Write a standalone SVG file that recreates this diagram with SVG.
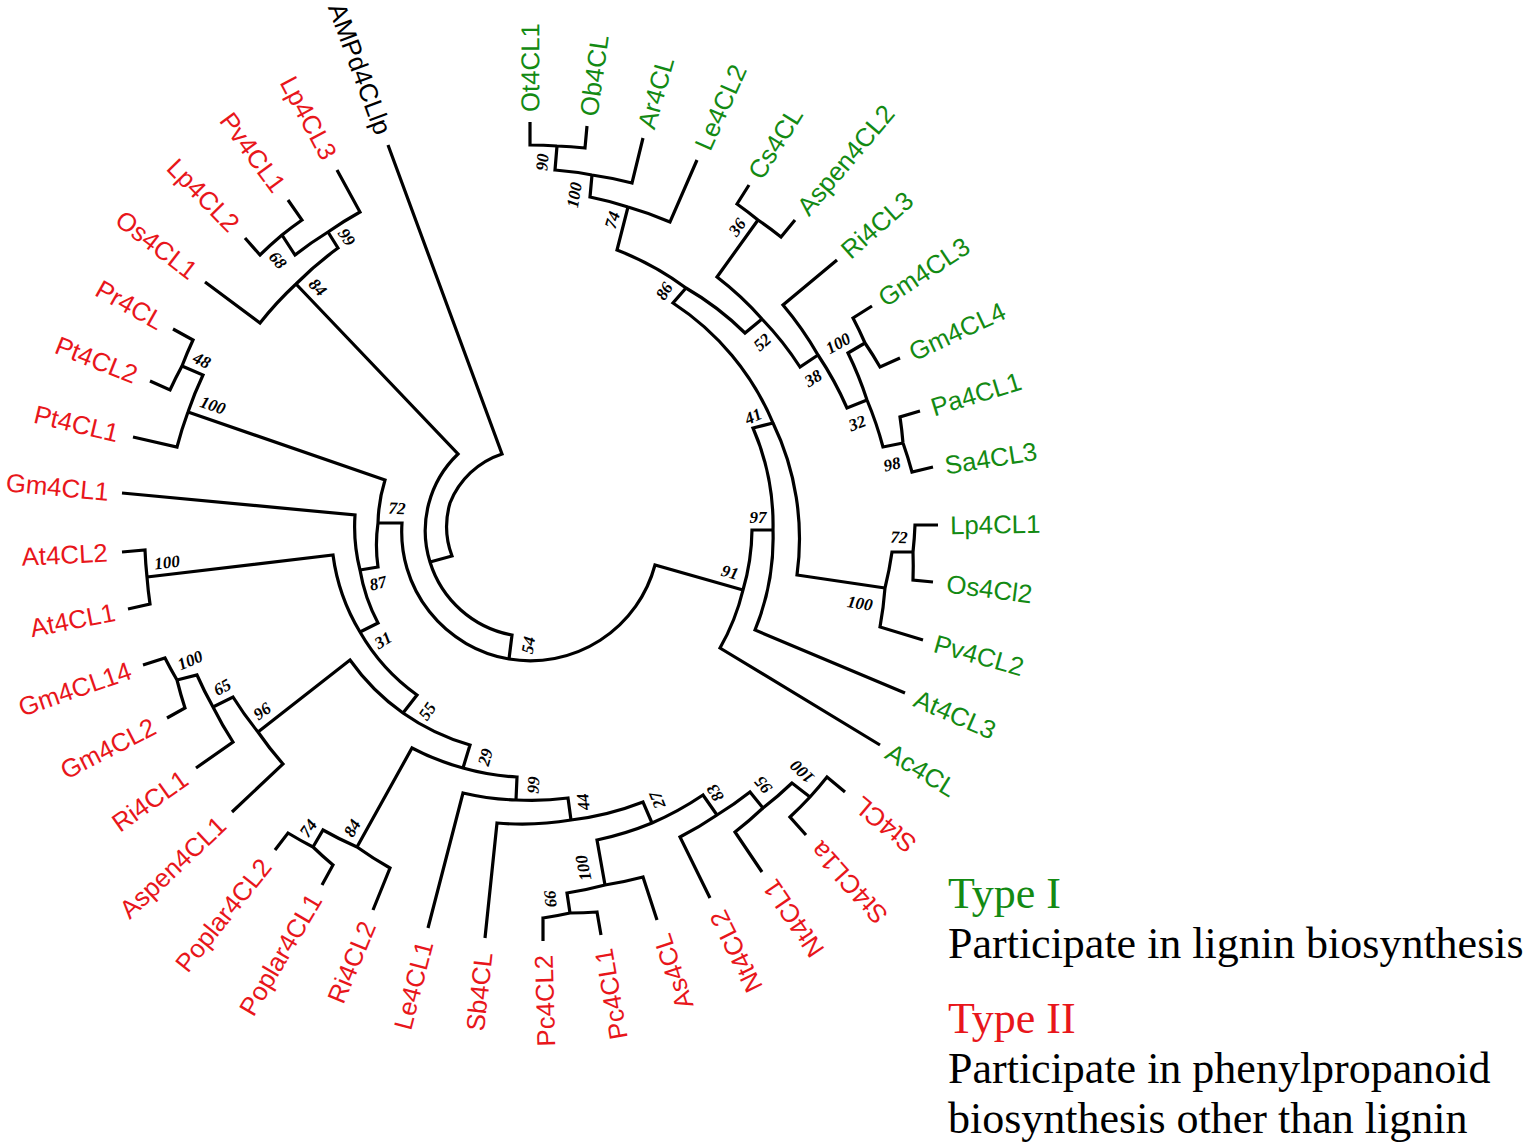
<svg xmlns="http://www.w3.org/2000/svg" width="1524" height="1146" viewBox="0 0 1524 1146">
<style>
.br{fill:none;stroke:#000;stroke-width:3.2;stroke-linejoin:miter;stroke-linecap:butt}
.lf{font-family:"Liberation Sans",Arial,sans-serif;font-size:25.8px}
.g{fill:#138a13}
.r{fill:#e8161b;text-anchor:end}
.k{fill:#000;text-anchor:end}
.bs{font-family:"Liberation Serif","Times New Roman",serif;font-size:17px;font-style:italic;font-weight:bold;text-anchor:middle;fill:#000}
.lg{font-family:"Liberation Serif","Times New Roman",serif;font-size:44px;fill:#000}
.ld{font-family:"Liberation Serif","Times New Roman",serif;font-size:44px;fill:#000}
</style>
<rect width="1524" height="1146" fill="#fff"/>
<g id="connectors" class="br">
<path d="M388,145 L502,454 A84,84 0 0 0 450,503 A84,84 0 0 0 452,556 L430,562"/>
<path d="M296,284 L458,454 A106,106 0 0 0 430,562 A106,106 0 0 0 512,635 L509,659"/>
<path d="M378,523 L402,523 A129,129 0 0 0 509,659 A129,129 0 0 0 655,565 L743,590"/>
<path d="M880,745 L720,648 A221,221 0 0 0 743,590 A221,221 0 0 0 752,530 L773,530"/>
<path d="M905,693 L755,630 A243,243 0 0 0 773,530 A243,243 0 0 0 753,428 L773,423"/>
<path d="M885,588 L797,575 A266,266 0 0 0 773,423 A266,266 0 0 0 673,303 L686,288"/>
<path d="M923,640 L880,627 A358,358 0 0 0 885,588 A358,358 0 0 0 892,552 L913,552"/>
<path d="M933,582 L913,580 A384,384 0 0 0 913,552 A384,384 0 0 0 915,525 L938,525"/>
<path d="M762,319 L745,333 A292,292 0 0 0 686,288 A292,292 0 0 0 617,250 L628,207"/>
<path d="M818,355 L800,367 A314,314 0 0 0 762,319 A314,314 0 0 0 717,277 L758,220"/>
<path d="M795,220 L781,237 A385,385 0 0 0 758,220 A385,385 0 0 0 737,204 L749,185"/>
<path d="M867,400 L847,408 A337,337 0 0 0 818,355 A337,337 0 0 0 783,305 L837,260"/>
<path d="M903,443 L883,447 A360,360 0 0 0 867,400 A360,360 0 0 0 848,353 L865,343"/>
<path d="M933,467 L912,472 A382,382 0 0 0 903,443 A382,382 0 0 0 900,417 L920,411"/>
<path d="M900,358 L880,367 A382,382 0 0 0 865,343 A382,382 0 0 0 853,318 L872,306"/>
<path d="M697,160 L670,222 A338,338 0 0 0 628,207 A338,338 0 0 0 590,197 L592,175"/>
<path d="M643,138 L632,183 A360,360 0 0 0 592,175 A360,360 0 0 0 555,170 L557,146"/>
<path d="M587,126 L585,148 A386,386 0 0 0 557,146 A386,386 0 0 0 530,145 L530,122"/>
<path d="M360,570 L378,567 A155,155 0 0 1 378,523 A155,155 0 0 1 385,480 L188,412"/>
<path d="M133,437 L177,447 A363,363 0 0 1 188,412 A363,363 0 0 1 203,375 L182,366"/>
<path d="M150,381 L170,390 A386,386 0 0 1 182,366 A386,386 0 0 1 193,340 L173,329"/>
<path d="M360,632 L378,623 A176,176 0 0 1 360,570 A176,176 0 0 1 355,515 L122,493"/>
<path d="M403,713 L417,695 A199,199 0 0 1 360,632 A199,199 0 0 1 333,555 L147,577"/>
<path d="M128,609 L150,604 A387,387 0 0 1 147,577 A387,387 0 0 1 145,550 L122,552"/>
<path d="M463,768 L470,745 A222,222 0 0 1 403,713 A222,222 0 0 1 350,660 L258,732"/>
<path d="M232,812 L283,764 A340,340 0 0 1 258,732 A340,340 0 0 1 233,697 L213,707"/>
<path d="M196,768 L233,742 A363,363 0 0 1 213,707 A363,363 0 0 1 197,675 L177,680"/>
<path d="M167,718 L185,708 A386,386 0 0 1 177,680 A386,386 0 0 1 165,658 L143,665"/>
<path d="M516,800 L517,777 A247,247 0 0 1 463,768 A247,247 0 0 1 412,748 L357,847"/>
<path d="M373,910 L390,868 A362,362 0 0 1 357,847 A362,362 0 0 1 323,830 L313,847"/>
<path d="M322,885 L333,865 A386,386 0 0 1 313,847 A386,386 0 0 1 288,833 L275,850"/>
<path d="M571,820 L568,798 A269,269 0 0 1 516,800 A269,269 0 0 1 463,793 L428,928"/>
<path d="M652,823 L643,802 A292,292 0 0 1 571,820 A292,292 0 0 1 497,823 L485,938"/>
<path d="M717,815 L703,795 A316,316 0 0 1 652,823 A316,316 0 0 1 597,840 L605,885"/>
<path d="M657,920 L643,877 A362,362 0 0 1 605,885 A362,362 0 0 1 567,893 L570,913"/>
<path d="M601,935 L597,912 A385,385 0 0 1 570,913 A385,385 0 0 1 543,918 L543,941"/>
<path d="M763,808 L750,792 A340,340 0 0 1 717,815 A340,340 0 0 1 680,837 L710,898"/>
<path d="M810,797 L792,783 A362,362 0 0 1 763,808 A362,362 0 0 1 735,832 L762,872"/>
<path d="M845,792 L827,777 A386,386 0 0 1 810,797 A386,386 0 0 1 790,817 L806,835"/>
<path d="M205,282 L260,323 A341,341 0 0 1 296,284 A341,341 0 0 1 338,248 L328,232"/>
<path d="M282,235 L295,255 A362,362 0 0 1 328,232 A362,362 0 0 1 360,212 L337,170"/>
<path d="M245,238 L260,255 A387,387 0 0 1 282,235 A387,387 0 0 1 302,220 L288,200"/>
</g>
<g class="lf">
<g id="leaf-Ot4CL1"><text class="g" transform="translate(530.3,112) rotate(-90.1)" dy="0.35em">Ot4CL1</text></g>
<g id="leaf-Ob4CL"><text class="g" transform="translate(588.6,116) rotate(-82.1)" dy="0.35em">Ob4CL</text></g>
<g id="leaf-Ar4CL"><text class="g" transform="translate(645.8,128) rotate(-74.1)" dy="0.35em">Ar4CL</text></g>
<g id="leaf-Le4CL2"><text class="g" transform="translate(702.1,148.5) rotate(-65.9)" dy="0.35em">Le4CL2</text></g>
<g id="leaf-Cs4CL"><text class="g" transform="translate(754.3,176.4) rotate(-57.8)" dy="0.35em">Cs4CL</text></g>
<g id="leaf-Aspen4CL2"><text class="g" transform="translate(802,211.4) rotate(-49.7)" dy="0.35em">Aspen4CL2</text></g>
<g id="leaf-Ri4CL3"><text class="g" transform="translate(844.8,253.4) rotate(-41.5)" dy="0.35em">Ri4CL3</text></g>
<g id="leaf-Gm4CL3"><text class="g" transform="translate(880.8,300.3) rotate(-33.4)" dy="0.35em">Gm4CL3</text></g>
<g id="leaf-Gm4CL4"><text class="g" transform="translate(910.4,353.3) rotate(-25.1)" dy="0.35em">Gm4CL4</text></g>
<g id="leaf-Pa4CL1"><text class="g" transform="translate(931.5,407.8) rotate(-17.1)" dy="0.35em">Pa4CL1</text></g>
<g id="leaf-Sa4CL3"><text class="g" transform="translate(944.8,465.5) rotate(-9)" dy="0.35em">Sa4CL3</text></g>
<g id="leaf-Lp4CL1"><text class="g" transform="translate(950,525.1) rotate(-0.8)" dy="0.35em">Lp4CL1</text></g>
<g id="leaf-Os4Cl2"><text class="g" transform="translate(946.7,583.5) rotate(7.2)" dy="0.35em">Os4Cl2</text></g>
<g id="leaf-Pv4CL2"><text class="g" transform="translate(934.7,643) rotate(15.5)" dy="0.35em">Pv4CL2</text></g>
<g id="leaf-At4CL3"><text class="g" transform="translate(915.6,697.4) rotate(23.4)" dy="0.35em">At4CL3</text></g>
<g id="leaf-Ac4CL"><text class="g" transform="translate(888.2,749.9) rotate(31.5)" dy="0.35em">Ac4CL</text></g>
<g id="leaf-St4CL"><text class="r" transform="translate(857.2,801.9) rotate(219.7)" dy="0.35em">St4CL</text></g>
<g id="leaf-St4CL1a"><text class="r" transform="translate(815.2,845.6) rotate(227.9)" dy="0.35em">St4CL1a</text></g>
<g id="leaf-Nt4CL1"><text class="r" transform="translate(768.7,882.1) rotate(235.9)" dy="0.35em">Nt4CL1</text></g>
<g id="leaf-Nt4CL2"><text class="r" transform="translate(716.9,912.1) rotate(244)" dy="0.35em">Nt4CL2</text></g>
<g id="leaf-As4CL"><text class="r" transform="translate(661.3,934.5) rotate(252.1)" dy="0.35em">As4CL</text></g>
<g id="leaf-Pc4CL1"><text class="r" transform="translate(603.2,948.8) rotate(260.2)" dy="0.35em">Pc4CL1</text></g>
<g id="leaf-Pc4CL2"><text class="r" transform="translate(543.6,954.8) rotate(268.3)" dy="0.35em">Pc4CL2</text></g>
<g id="leaf-Sb4CL"><text class="r" transform="translate(483.7,952.4) rotate(276.4)" dy="0.35em">Sb4CL</text></g>
<g id="leaf-Le4CL1"><text class="r" transform="translate(424.8,941.5) rotate(284.5)" dy="0.35em">Le4CL1</text></g>
<g id="leaf-Ri4CL2"><text class="r" transform="translate(368.1,922.4) rotate(292.6)" dy="0.35em">Ri4CL2</text></g>
<g id="leaf-Poplar4CL1"><text class="r" transform="translate(315.2,895.9) rotate(300.6)" dy="0.35em">Poplar4CL1</text></g>
<g id="leaf-Poplar4CL2"><text class="r" transform="translate(265.9,861.9) rotate(308.7)" dy="0.35em">Poplar4CL2</text></g>
<g id="leaf-Aspen4CL1"><text class="r" transform="translate(221.9,821.2) rotate(316.8)" dy="0.35em">Aspen4CL1</text></g>
<g id="leaf-Ri4CL1"><text class="r" transform="translate(185,776) rotate(324.7)" dy="0.35em">Ri4CL1</text></g>
<g id="leaf-Gm4CL2"><text class="r" transform="translate(153.9,724.8) rotate(332.8)" dy="0.35em">Gm4CL2</text></g>
<g id="leaf-Gm4CL14"><text class="r" transform="translate(130.4,669.7) rotate(340.9)" dy="0.35em">Gm4CL14</text></g>
<g id="leaf-At4CL1"><text class="r" transform="translate(114.8,611.9) rotate(349)" dy="0.35em">At4CL1</text></g>
<g id="leaf-At4CL2"><text class="r" transform="translate(107.6,552.5) rotate(357.1)" dy="0.35em">At4CL2</text></g>
<g id="leaf-Gm4CL1"><text class="r" transform="translate(108.8,491.8) rotate(5.3)" dy="0.35em">Gm4CL1</text></g>
<g id="leaf-Pt4CL1"><text class="r" transform="translate(118.4,433.5) rotate(13.3)" dy="0.35em">Pt4CL1</text></g>
<g id="leaf-Pt4CL2"><text class="r" transform="translate(136.5,375.6) rotate(21.5)" dy="0.35em">Pt4CL2</text></g>
<g id="leaf-Pr4CL"><text class="r" transform="translate(161.6,322.9) rotate(29.4)" dy="0.35em">Pr4CL</text></g>
<g id="leaf-Os4CL1"><text class="r" transform="translate(194.2,273.5) rotate(37.4)" dy="0.35em">Os4CL1</text></g>
<g id="leaf-Lp4CL2"><text class="r" transform="translate(234.9,227.5) rotate(45.7)" dy="0.35em">Lp4CL2</text></g>
<g id="leaf-Pv4CL1"><text class="r" transform="translate(280,189.3) rotate(53.7)" dy="0.35em">Pv4CL1</text></g>
<g id="leaf-Lp4CL3"><text class="r" transform="translate(330,157.7) rotate(61.7)" dy="0.35em">Lp4CL3</text></g>
<g id="leaf-AMPd4CLlp"><text class="k" transform="translate(383.9,133.3) rotate(69.7)" dy="0.35em">AMPd4CLlp</text></g>
</g>
<g class="bs">
<g id="node-90"><text transform="translate(542,162) rotate(-86)" dy="0.35em">90</text></g>
<g id="node-100a"><text transform="translate(574,195) rotate(-80)" dy="0.35em">100</text></g>
<g id="node-74a"><text transform="translate(612,220) rotate(-73)" dy="0.35em">74</text></g>
<g id="node-86"><text transform="translate(664,291) rotate(-58)" dy="0.35em">86</text></g>
<g id="node-36"><text transform="translate(737,227) rotate(-54)" dy="0.35em">36</text></g>
<g id="node-52"><text transform="translate(762,342) rotate(-42)" dy="0.35em">52</text></g>
<g id="node-38"><text transform="translate(813,378) rotate(-31)" dy="0.35em">38</text></g>
<g id="node-100b"><text transform="translate(838,343) rotate(-29)" dy="0.35em">100</text></g>
<g id="node-32"><text transform="translate(857,423) rotate(-21)" dy="0.35em">32</text></g>
<g id="node-98"><text transform="translate(892,464) rotate(-13)" dy="0.35em">98</text></g>
<g id="node-41"><text transform="translate(753,416) rotate(-24)" dy="0.35em">41</text></g>
<g id="node-97"><text transform="translate(758,517) rotate(0)" dy="0.35em">97</text></g>
<g id="node-91"><text transform="translate(730,572) rotate(15)" dy="0.35em">91</text></g>
<g id="node-72a"><text transform="translate(899,537) rotate(3)" dy="0.35em">72</text></g>
<g id="node-100c"><text transform="translate(860,603) rotate(9)" dy="0.35em">100</text></g>
<g id="node-54"><text transform="translate(528,645) rotate(-80)" dy="0.35em">54</text></g>
<g id="node-31"><text transform="translate(383,640) rotate(-31)" dy="0.35em">31</text></g>
<g id="node-55"><text transform="translate(427,711) rotate(-55)" dy="0.35em">55</text></g>
<g id="node-29"><text transform="translate(485,757) rotate(-74)" dy="0.35em">29</text></g>
<g id="node-99a"><text transform="translate(533,785) rotate(-87)" dy="0.35em">99</text></g>
<g id="node-44"><text transform="translate(583,802) rotate(-98)" dy="0.35em">44</text></g>
<g id="node-27"><text transform="translate(657,800) rotate(-112)" dy="0.35em">27</text></g>
<g id="node-83"><text transform="translate(715,793) rotate(-123)" dy="0.35em">83</text></g>
<g id="node-95"><text transform="translate(763,785) rotate(-130)" dy="0.35em">95</text></g>
<g id="node-100d"><text transform="translate(802,772) rotate(-136)" dy="0.35em">100</text></g>
<g id="node-100e"><text transform="translate(583,868) rotate(-102)" dy="0.35em">100</text></g>
<g id="node-66"><text transform="translate(550,899) rotate(-96)" dy="0.35em">66</text></g>
<g id="node-72b"><text transform="translate(397,508) rotate(3)" dy="0.35em">72</text></g>
<g id="node-87"><text transform="translate(378,583) rotate(-13)" dy="0.35em">87</text></g>
<g id="node-100f"><text transform="translate(167,562) rotate(-7)" dy="0.35em">100</text></g>
<g id="node-100g"><text transform="translate(213,405) rotate(19)" dy="0.35em">100</text></g>
<g id="node-48"><text transform="translate(202,360) rotate(25)" dy="0.35em">48</text></g>
<g id="node-84a"><text transform="translate(318,287) rotate(46)" dy="0.35em">84</text></g>
<g id="node-68"><text transform="translate(278,260) rotate(50)" dy="0.35em">68</text></g>
<g id="node-99b"><text transform="translate(347,237) rotate(56)" dy="0.35em">99</text></g>
<g id="node-100h"><text transform="translate(190,660) rotate(-23)" dy="0.35em">100</text></g>
<g id="node-65"><text transform="translate(222,687) rotate(-29)" dy="0.35em">65</text></g>
<g id="node-96"><text transform="translate(262,711) rotate(-36)" dy="0.35em">96</text></g>
<g id="node-74b"><text transform="translate(308,828) rotate(-55)" dy="0.35em">74</text></g>
<g id="node-84b"><text transform="translate(352,828) rotate(-61)" dy="0.35em">84</text></g>
</g>
<g id="legend">
<text class="lg" x="948" y="908" style="fill:#138a13">Type I</text>
<text class="ld" x="948" y="958">Participate in lignin biosynthesis</text>
<text class="lg" x="948" y="1033" style="fill:#e8161b">Type II</text>
<text class="ld" x="948" y="1083">Participate in phenylpropanoid</text>
<text class="ld" x="948" y="1133">biosynthesis other than lignin</text>
</g>
</svg>
